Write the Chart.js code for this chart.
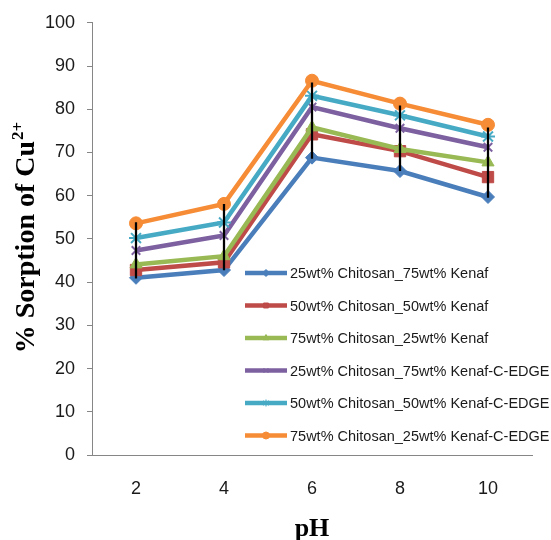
<!DOCTYPE html>
<html><head><meta charset="utf-8">
<script src="https://cdn.jsdelivr.net/npm/chart.js@4/dist/chart.umd.min.js"></script>
<style>html,body{margin:0;padding:0;background:#fff}canvas{display:block}</style>
</head><body>
<canvas id="c" width="551" height="540"></canvas>
<script>
// ---- data ----
const categories = ['2', '4', '6', '8', '10'];
const seriesNames = [
  '25wt% Chitosan_75wt% Kenaf',
  '50wt% Chitosan_50wt% Kenaf',
  '75wt% Chitosan_25wt% Kenaf',
  '25wt% Chitosan_75wt% Kenaf-C-EDGE',
  '50wt% Chitosan_50wt% Kenaf-C-EDGE',
  '75wt% Chitosan_25wt% Kenaf-C-EDGE'
];
const chit25Kenaf75 = [41.0, 42.8, 68.8, 65.7, 59.7];
const chit50Kenaf50 = [42.8, 44.6, 74.2, 70.3, 64.3];
const chit75Kenaf25 = [44.1, 46.0, 75.8, 70.8, 67.7];
const chit25Kenaf75Edge = [47.3, 50.8, 80.5, 75.6, 71.2];
const chit50Kenaf50Edge = [50.2, 53.8, 83.1, 78.6, 73.7];
const chit75Kenaf25Edge = [53.6, 58.1, 86.6, 81.3, 76.4];
const errLow = [40.9, 42.8, 68.6, 65.8, 59.6];
const errHigh = [53.8, 58.0, 86.1, 80.8, 75.7];
const yMin = 0, yMax = 100, yStep = 10;
const xTitle = 'pH';
const yTitleMain = '% Sorption of Cu';
const yTitleSup = '2+';

// ---- styles ----
const seriesValues = [chit25Kenaf75, chit50Kenaf50, chit75Kenaf25, chit25Kenaf75Edge, chit50Kenaf50Edge, chit75Kenaf25Edge];
const colors = ['#4A7EBB', '#BE4B48', '#98B954', '#7D60A0', '#46AAC5', '#F68C36'];
const markers = ['rectRot', 'rect', 'triangle', 'crossRot', 'star', 'circle'];
const markerRadius = [6.5, 8, 7, 6, 7, 6.5];
const markerBorder = [1, 1, 1, 2, 2, 1];

const datasets = seriesValues.map((vals, i) => ({
  type: 'line',
  label: seriesNames[i],
  data: vals,
  borderColor: colors[i],
  backgroundColor: colors[i],
  borderWidth: 4.5,
  pointStyle: markers[i],
  pointRadius: markerRadius[i],
  pointBorderWidth: markerBorder[i],
  pointBackgroundColor: colors[i],
  pointBorderColor: colors[i],
  tension: 0,
  order: 6 - i + 1
}));
datasets.push({
  type: 'bar',
  label: 'range',
  data: errLow.map((lo, i) => [lo, errHigh[i]]),
  backgroundColor: '#000',
  barThickness: 1.6,
  order: 0
});

const customPlugin = {
  id: 'custom',
  afterDraw(chart) {
    const ctx = chart.ctx;
    // y title with superscript
    ctx.save();
    ctx.translate(34, 238);
    ctx.rotate(-Math.PI / 2);
    ctx.fillStyle = '#000';
    ctx.textBaseline = 'alphabetic';
    const mainFont = 'bold 28px "Liberation Serif"';
    const supFont = 'bold 17px "Liberation Serif"';
    ctx.font = mainFont; const w1 = ctx.measureText(yTitleMain).width;
    ctx.font = supFont; const w2 = ctx.measureText(yTitleSup).width;
    const start = -(w1 + w2) / 2;
    ctx.font = mainFont; ctx.fillText(yTitleMain, start, 0);
    ctx.font = supFont; ctx.fillText(yTitleSup, start + w1 + 1, -11);
    ctx.restore();

    // legend
    ctx.save();
    seriesNames.forEach((name, i) => {
      const y = 273 + i * 32.5;
      ctx.strokeStyle = colors[i];
      ctx.fillStyle = colors[i];
      ctx.lineWidth = 4.5;
      ctx.beginPath(); ctx.moveTo(245, y); ctx.lineTo(287, y); ctx.stroke();
      if (Chart.helpers && Chart.helpers.drawPoint) {
        ctx.lineWidth = 1;
        Chart.helpers.drawPoint(ctx, {pointStyle: markers[i], radius: 3.5, borderWidth: 1, rotation: 0}, 266, y);
      }
      ctx.fillStyle = '#1a1a1a';
      ctx.font = '14.5px "Liberation Sans"';
      ctx.textBaseline = 'middle';
      ctx.fillText(name, 290, y + 1);
    });
    ctx.restore();
  }
};

new Chart(document.getElementById('c'), {
  data: { labels: categories, datasets },
  options: {
    responsive: false,
    animation: false,
    events: [],
    layout: { padding: { top: 22, right: 19, left: 0, bottom: 0 } },
    plugins: { legend: { display: false }, tooltip: { enabled: false } },
    scales: {
      x: {
        type: 'category',
        offset: true,
        grid: { display: false, drawTicks: false },
        border: { display: true, color: '#868686', width: 1 },
        ticks: { color: '#1a1a1a', font: { family: 'Liberation Sans', size: 18 }, padding: 23 },
        title: { display: true, text: xTitle, color: '#000', font: { family: 'Liberation Serif', size: 26, weight: 'bold', lineHeight: 1 }, padding: { top: 0, bottom: -2 } },
        afterFit(scale) { scale.height = 85; }
      },
      y: {
        min: yMin, max: yMax,
        ticks: { stepSize: yStep, color: '#1a1a1a', font: { family: 'Liberation Sans', size: 18 }, padding: 12 },
        grid: { drawOnChartArea: false, drawTicks: true, tickLength: 5, color: '#868686' },
        border: { display: true, color: '#868686', width: 1 },
        afterFit(scale) { scale.width = 92; }
      }
    }
  },
  plugins: [customPlugin]
});
</script>
</body></html>
